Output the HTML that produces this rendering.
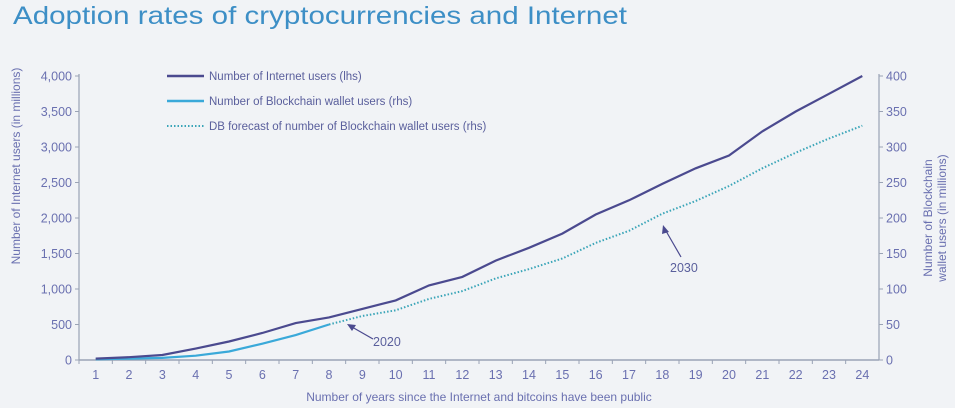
<!DOCTYPE html>
<html><head><meta charset="utf-8">
<style>
html,body{margin:0;padding:0;background:#f1f3f6;}
svg{display:block;font-family:"Liberation Sans",sans-serif;}
</style></head>
<body>
<svg id="chart" width="955" height="408" viewBox="0 0 955 408" xmlns="http://www.w3.org/2000/svg">
<rect width="955" height="408" fill="#f1f3f6"/>
<text x="13" y="24" font-size="25" fill="#3d8fc6" textLength="614" lengthAdjust="spacingAndGlyphs">Adoption rates of cryptocurrencies and Internet</text>
<g id="axes"></g>
<g id="marks"></g>
<g>
<line x1="167" y1="76" x2="204" y2="76" stroke="#4b4a8f" stroke-width="2.5"/>
<text x="209" y="80" font-size="11.5" fill="#5a5f9c">Number of Internet users (lhs)</text>
<line x1="167" y1="101" x2="204" y2="101" stroke="#3aa9d9" stroke-width="2.5"/>
<text x="209" y="105" font-size="11.5" fill="#5a5f9c">Number of Blockchain wallet users (rhs)</text>
<line x1="167" y1="126" x2="204" y2="126" stroke="#3aa5b8" stroke-width="2" stroke-dasharray="1.5,2"/>
<text x="209" y="130" font-size="11.5" fill="#5a5f9c">DB forecast of number of Blockchain wallet users (rhs)</text>
</g>
<text x="52" y="0" font-size="12" fill="#6a70b0" text-anchor="middle" transform="translate(20,218) rotate(-90)">Number of Internet users (in millions)</text>
<text font-size="12" fill="#6a70b0" text-anchor="middle" transform="translate(932,218) rotate(-90)">Number of Blockchain</text>
<text font-size="12" fill="#6a70b0" text-anchor="middle" transform="translate(946,218) rotate(-90)">wallet users (in millions)</text>
<text x="479" y="401" font-size="12" fill="#6a70b0" text-anchor="middle">Number of years since the Internet and bitcoins have been public</text>
<g>
<line x1="373" y1="339" x2="352" y2="327" stroke="#4b4a8f" stroke-width="1.2"/>
<polygon points="347,324 356,325 352,331" fill="#4b4a8f"/>
<text x="373" y="346" font-size="12.5" fill="#5a5f9c">2020</text>
</g>
<g>
<line x1="681" y1="257" x2="666" y2="231" stroke="#4b4a8f" stroke-width="1.2"/>
<polygon points="663,225 669,232 662,234" fill="#4b4a8f"/>
<text x="670" y="272" font-size="12.5" fill="#5a5f9c">2030</text>
</g>
</svg>
<script>
const categories = ["1","2","3","4","5","6","7","8","9","10","11","12","13","14","15","16","17","18","19","20","21","22","23","24"];
const internetUsers = [20,40,70,160,260,380,520,600,720,840,1050,1170,1400,1580,1780,2050,2250,2480,2700,2880,3220,3500,3750,4000];
const blockchainActual = [1,2,3,6,12,23,35,50];
const blockchainForecast = [50,62,70,86,97,115,128,143,165,182,206,224,245,270,292,312,330];
const forecastStartIndex = 7;
const leftTicks = [0,500,1000,1500,2000,2500,3000,3500,4000];
const rightTicks = [0,50,100,150,200,250,300,350,400];

const NS="http://www.w3.org/2000/svg";
const X0=79, X1=879, Y0=360, Y1=76;
const band=(X1-X0)/categories.length;
const xS=i=>X0+band*(i+0.5);
const yL=v=>Y0-(v/4000)*(Y0-Y1);
const yR=v=>Y0-(v/400)*(Y0-Y1);
function mk(tag,attrs,parent){const e=document.createElementNS(NS,tag);for(const k in attrs)e.setAttribute(k,attrs[k]);parent.appendChild(e);return e;}
const axes=document.getElementById('axes'), marks=document.getElementById('marks');
const ac="#9aa3b5", tc="#6a70b0";

let e=mk('line',{x1:X0,y1:Y1-2,x2:X0,y2:Y0,stroke:ac,'stroke-width':1.2},axes);


e=mk('line',{x1:X1,y1:Y1-2,x2:X1,y2:Y0,stroke:ac,'stroke-width':1.2},axes);


e=mk('line',{x1:X0,y1:Y0,x2:X1,y2:Y0,stroke:ac,'stroke-width':1.5},axes);



leftTicks.forEach(v=>{
  mk('line',{x1:X0-4,y1:yL(v),x2:X0,y2:yL(v),stroke:ac},axes);
  const t=mk('text',{x:X0-7,y:yL(v)+4.5,'font-size':12.5,fill:tc,'text-anchor':'end'},axes);
  t.textContent=v.toLocaleString('en-US');
  
  
});
rightTicks.forEach(v=>{
  mk('line',{x1:X1,y1:yR(v),x2:X1+4,y2:yR(v),stroke:ac},axes);
  const t=mk('text',{x:X1+7,y:yR(v)+4.5,'font-size':12.5,fill:tc},axes);
  t.textContent=String(v);
  
  
});
categories.forEach((c,i)=>{
  mk('line',{x1:X0+band*i,y1:Y0,x2:X0+band*i,y2:Y0+4,stroke:ac},axes);
  const t=mk('text',{x:xS(i),y:Y0+19,'font-size':12.5,fill:tc,'text-anchor':'middle'},axes);
  t.textContent=c;
  
  
});

const pts=(arr,f,off)=>arr.map((v,i)=>xS(i+off).toFixed(1)+','+f(v).toFixed(1)).join(' ');
e=mk('polyline',{points:pts(blockchainForecast,yR,forecastStartIndex),fill:'none',stroke:'#3aa5b8','stroke-width':2,'stroke-dasharray':'1.5,2'},marks);


e=mk('polyline',{points:pts(blockchainActual,yR,0),fill:'none',stroke:'#3aa9d9','stroke-width':2.2},marks);


e=mk('polyline',{points:pts(internetUsers,yL,0),fill:'none',stroke:'#4b4a8f','stroke-width':2.2},marks);


</script>
</body></html>
